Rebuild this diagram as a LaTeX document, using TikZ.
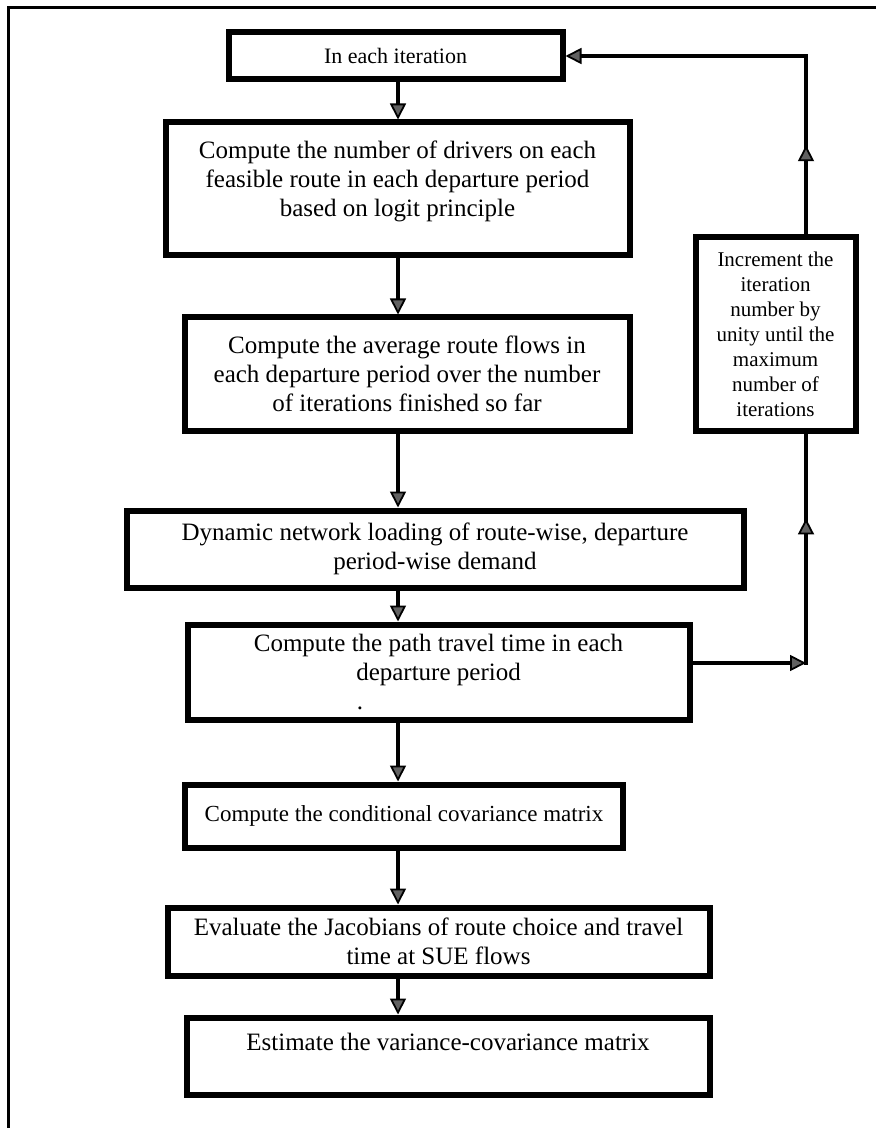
\documentclass[tikz,border=0pt]{standalone}
\usepackage{fontspec}
\setmainfont{Liberation Serif}
\usetikzlibrary{arrows.meta,decorations.markings}
\begin{document}
\begin{tikzpicture}[x=0.5pt,y=-0.5pt,
  box/.style={draw=black,line width=3pt,rectangle,align=center,inner sep=0pt,
    font=\fontsize{12.5}{14.5}\selectfont},
  head/.tip={Triangle[length=8pt,width=8pt,line width=0.9pt,fill=black!62]},
  flow/.style={line width=2.4pt,-head},
  back/.style={line width=2.4pt},
  midhead/.style={postaction={decorate},
    decoration={markings,mark=at position #1 with {\arrow{head}}}},
]
\useasboundingbox (0,0) rectangle (876,1128);

% page frame (open on the right and bottom)
\draw[line width=1.5pt] (8,1140) -- (8,8) -- (890,8);

% columns for the connectors
\coordinate (ax) at (398,0);
\coordinate (rx) at (806,0);

% main sequence of steps
\node[box,font=\fontsize{11}{13}\selectfont,minimum width=167pt,minimum height=23.5pt]
  (b1) at (395.5,56) {In each iteration};
\node[box,minimum width=232pt,minimum height=66.5pt] (b2) at (397.5,189)
  {Compute the number of drivers on each\\feasible route in each departure period\\based on logit principle\\[-4pt]\mbox{}};
\node[box,minimum width=222.5pt,minimum height=56.5pt] (b3) at (407,374)
  {Compute the average route flows in\\each departure period over the number\\of iterations finished so far};
\node[box,minimum width=308.5pt,minimum height=38.5pt] (b4) at (435,549)
  {Dynamic network loading of route-wise, departure\\period-wise demand};
\node[box,minimum width=251pt,minimum height=47.5pt] (b5) at (438.5,672)
  {Compute the path travel time in each\\departure period\\\mbox{}};
\node[font=\fontsize{12.5}{14.5}\selectfont,inner sep=0pt] (b5dot) at (360,708) {.};
\node[box,font=\fontsize{11.5}{13.5}\selectfont,minimum width=219pt,minimum height=31.5pt]
  (b6) at (404,816) {Compute the conditional covariance matrix};
\node[box,minimum width=271pt,minimum height=34pt] (b7) at (438.5,941.5)
  {Evaluate the Jacobians of route choice and travel\\time at SUE flows};
\node[box,minimum width=261.5pt,minimum height=38.5pt] (b8) at (448,1056)
  {Estimate the variance-covariance matrix\\\mbox{}};

% feedback step
\node[box,font=\fontsize{10.5}{12.5}\selectfont,minimum width=80pt,minimum height=96.5pt]
  (inc) at (775.5,334)
  {Increment the\\iteration\\number by\\unity until the\\maximum\\number of\\iterations};

% downward flow
\draw[flow] (b1.south -| ax) -- (b2.north -| ax);
\draw[flow] (b2.south -| ax) -- (b3.north -| ax);
\draw[flow] (b3.south -| ax) -- (b4.north -| ax);
\draw[flow] (b4.south -| ax) -- (b5.north -| ax);
\draw[flow] (b5.south -| ax) -- (b6.north -| ax);
\draw[flow] (b6.south -| ax) -- (b7.north -| ax);
\draw[flow] (b7.south -| ax) -- (b8.north -| ax);

% iteration loop
\coordinate (c1) at ([yshift=4.5pt]b5.east -| rx);
\coordinate (c2) at (b1.east -| rx);
\draw[flow] ([yshift=4.5pt]b5.east) -- (c1);
\draw[back,line cap=rect,midhead=0.63] (c1) -- (inc.south -| rx);
\draw[back,line cap=rect,midhead=0.5] (inc.north -| rx) -- (c2);
\draw[flow] (c2) -- (b1.east);
\end{tikzpicture}
\end{document}
